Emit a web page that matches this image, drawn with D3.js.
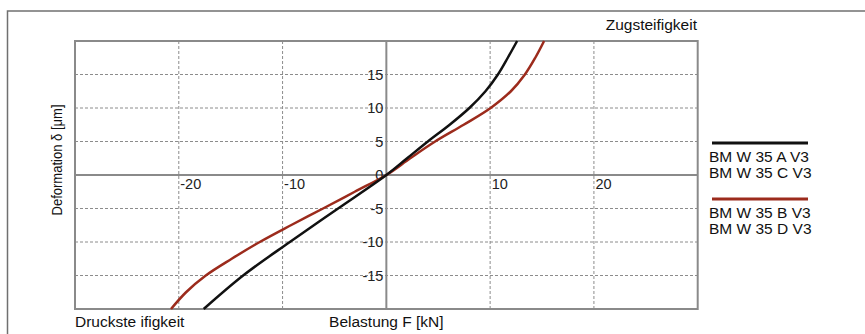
<!DOCTYPE html>
<html>
<head>
<meta charset="utf-8">
<script src="https://d3js.org/d3.v7.min.js"></script>
<style>
    html, body { margin: 0; padding: 0; background: #fff; }
    #space { width: 865px; height: 334px; }
</style>
</head>
<body>
<div id="space"></div>
<script>
// Belastung F [kN] vs Deformation [um]
var black_F = [-17.6, -13.8, -9.3, -4.65, 0, 2.0, 4.0, 6.1, 8.0, 9.55, 10.75, 11.7, 12.6];
var black_d = [-20, -15, -10, -5, 0, 2.5, 5, 7.5, 10, 12.5, 15, 17.5, 20];

var red_F = [-20.75, -19.3, -17.4, -14.9, -12.2, -9.2, -6.1, -3.05, 0, 2.3, 4.7, 7.45, 10.05, 12.0, 13.35, 14.35, 15.2];
var red_d = [-20, -17.5, -15, -12.5, -10, -7.5, -5, -2.5, 0, 2.5, 5, 7.5, 10, 12.5, 15, 17.5, 20];

var x_ticks = [-20, -10, 10, 20];
var y_ticks = [-15, -10, -5, 0, 5, 10, 15];
var x_grid = [-20, -10, 10, 20];
var y_grid = [-15, -10, -5, 5, 10, 15];

var legend_black = ["BM W 35 A V3", "BM W 35 C V3"];
var legend_red = ["BM W 35 B V3", "BM W 35 D V3"];

var svg, x, y;
var FONT = "'Liberation Sans', Arial, Helvetica, sans-serif";
var RED = "#9c2b1c";

init();

function init() {
    initSvg();

    x = d3.scaleLinear().domain([-30, 30]).range([75, 697.7]);
    y = d3.scaleLinear().domain([-20, 20]).range([309, 41]);

    drawGrid();
    drawAxes();
    drawCurves();
    drawTexts();
    drawLegend();
}

function initSvg() {
    svg = d3.select("#space").append("svg")
                .attr("xmlns", "http://www.w3.org/2000/svg")
                .attr("width", 865)
                .attr("height", 334);

    //outer frame, runs off the right and bottom edge
    svg.append("rect")
        .attr("x", 7.5)
        .attr("y", 11)
        .attr("width", 900)
        .attr("height", 400)
        .attr("fill", "none")
        .attr("stroke", "#707070")
        .attr("stroke-width", 1.5);
}

function drawGrid() {
    var g = svg.append("g").attr("id", "grid");

    g.selectAll(".vgrid").data(x_grid).enter()
        .append("line")
        .attr("class", "vgrid")
        .attr("x1", function (d) { return x(d); })
        .attr("x2", function (d) { return x(d); })
        .attr("y1", y(20))
        .attr("y2", y(-20))
        .attr("stroke", "#8c8c8c")
        .attr("stroke-width", 1)
        .attr("stroke-dasharray", "3,2");

    g.selectAll(".hgrid").data(y_grid).enter()
        .append("line")
        .attr("class", "hgrid")
        .attr("x1", x(-30))
        .attr("x2", x(30))
        .attr("y1", function (d) { return y(d); })
        .attr("y2", function (d) { return y(d); })
        .attr("stroke", "#8c8c8c")
        .attr("stroke-width", 1)
        .attr("stroke-dasharray", "3,2");

    //plot border
    g.append("rect")
        .attr("x", x(-30))
        .attr("y", y(20))
        .attr("width", x(30) - x(-30))
        .attr("height", y(-20) - y(20))
        .attr("fill", "none")
        .attr("stroke", "#8a8a8a")
        .attr("stroke-width", 2);
}

function drawAxes() {
    //zero lines
    svg.append("line")
        .attr("x1", x(0)).attr("x2", x(0))
        .attr("y1", y(20)).attr("y2", y(-20))
        .attr("stroke", "#8a8a8a")
        .attr("stroke-width", 2);
    svg.append("line")
        .attr("x1", x(-30)).attr("x2", x(30))
        .attr("y1", y(0)).attr("y2", y(0))
        .attr("stroke", "#8a8a8a")
        .attr("stroke-width", 2);

    //plain hyphen, not the unicode minus
    var fmt = function (d) { return String(d); };

    var xAxis = d3.axisBottom(x).tickValues(x_ticks).tickFormat(fmt).tickSize(0).tickPadding(0);
    var gx = svg.append("g")
                .attr("transform", "translate(0," + y(0) + ")")
                .call(xAxis);
    gx.select(".domain").remove();
    gx.selectAll("text")
        .attr("text-anchor", "start")
        .attr("dx", 1)
        .attr("dy", 0)
        .attr("y", 13.5)
        .attr("font-family", FONT)
        .attr("font-size", 14.5)
        .attr("fill", "#222");

    var yAxis = d3.axisLeft(y).tickValues(y_ticks).tickFormat(fmt).tickSize(0).tickPadding(3);
    var gy = svg.append("g")
                .attr("transform", "translate(" + x(0) + ",0)")
                .call(yAxis);
    gy.select(".domain").remove();
    gy.selectAll("text")
        .attr("font-family", FONT)
        .attr("font-size", 14.5)
        .attr("fill", "#222");
}

function drawCurves() {
    var line = d3.line()
                .x(function (d) { return x(d[0]); })
                .y(function (d) { return y(d[1]); })
                .curve(d3.curveCatmullRom.alpha(0.5));

    var red_pts = red_F.map(function (f, i) { return [f, red_d[i]]; });
    var black_pts = black_F.map(function (f, i) { return [f, black_d[i]]; });

    svg.append("path")
        .attr("d", line(red_pts))
        .attr("fill", "none")
        .attr("stroke", RED)
        .attr("stroke-width", 2.5);

    svg.append("path")
        .attr("d", line(black_pts))
        .attr("fill", "none")
        .attr("stroke", "#111")
        .attr("stroke-width", 2.5);
}

function drawTexts() {
    svg.append("text")
        .attr("x", 697)
        .attr("y", 30)
        .attr("text-anchor", "end")
        .attr("font-family", FONT)
        .attr("font-size", 15.5)
        .attr("fill", "#111")
        .text("Zugsteifigkeit");

    svg.append("text")
        .attr("x", 75)
        .attr("y", 326.5)
        .attr("font-family", FONT)
        .attr("font-size", 15.5)
        .attr("fill", "#111")
        .text("Druckste ifigkeit");

    svg.append("text")
        .attr("x", x(0))
        .attr("y", 326.5)
        .attr("text-anchor", "middle")
        .attr("font-family", FONT)
        .attr("font-size", 15.5)
        .attr("fill", "#111")
        .text("Belastung F [kN]");

    svg.append("text")
        .attr("transform", "translate(62,160) rotate(-90)")
        .attr("text-anchor", "middle")
        .attr("font-family", FONT)
        .attr("font-size", 15)
        .attr("textLength", 111)
        .attr("lengthAdjust", "spacingAndGlyphs")
        .attr("fill", "#111")
        .text("Deformation δ [μm]");
}

function drawLegend() {
    var items = [
        { color: "#111", names: legend_black, top: 143 },
        { color: RED, names: legend_red, top: 199 }
    ];

    items.forEach(function (it) {
        svg.append("line")
            .attr("x1", 712).attr("x2", 808)
            .attr("y1", it.top).attr("y2", it.top)
            .attr("stroke", it.color)
            .attr("stroke-width", 3);

        it.names.forEach(function (n, i) {
            svg.append("text")
                .attr("x", 709)
                .attr("y", it.top + 19 + 16 * i)
                .attr("font-family", FONT)
                .attr("font-size", 15.5)
                .attr("fill", "#111")
                .text(n);
        });
    });
}
</script>
</body>
</html>
